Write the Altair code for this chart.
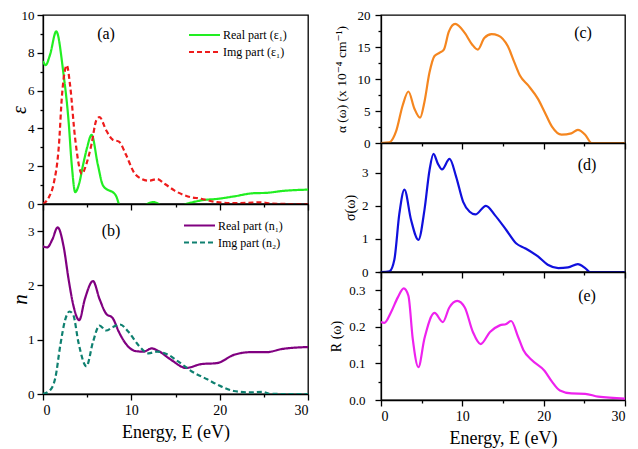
import altair as alt
import pandas as pd

FONT = "Liberation Serif, Times New Roman, DejaVu Serif, serif"

# ---------------- data ----------------
# (a) dielectric function
eps1_E = [0, 0.3, 0.8, 1.5, 2.3, 2.9, 3.25, 3.65, 4.1, 4.55, 5.0, 5.5, 6.2, 6.8, 7.5, 7.9, 8.3, 8.6,
          9.5, 10.5, 11.3, 11.8, 12.5, 13.1, 13.8, 15.0, 16.2, 17.0, 17.9, 19.9, 21.6, 23.8, 25.3, 27.1, 30]
eps1_v = [7.57, 7.35, 7.9, 9.13, 6.96, 4.36, 2.1, 0.63, 1.1, 2.1, 3.0, 3.66, 2.1, 0.97, 0.71, 0.63, 0.4, 0.0,
          -0.6, -0.6, -0.2, 0.0, 0.1, 0.0, -0.3, -0.3, 0.0, 0.1, 0.19, 0.28, 0.4, 0.57, 0.59, 0.69, 0.76]
eps2_E = [0, 0.67, 1.2, 1.8, 2.15, 2.44, 2.7, 3.07, 3.63, 4.4, 4.9, 5.48, 6.04, 6.4, 7.15, 7.9, 8.6, 9.4,
          10.3, 11.2, 12.0, 12.9, 13.8, 14.9, 16.4, 17.9, 19.7, 21.6, 23.0, 24.6, 26.0, 28, 30]
eps2_v = [0, 0.36, 1.06, 3.1, 5.75, 6.96, 7.34, 6.27, 3.5, 1.6, 2.1, 3.14, 4.44, 4.6, 3.9, 3.4, 3.3, 2.6,
          1.67, 1.32, 1.23, 1.32, 1.06, 0.71, 0.4, 0.28, 0.1, 0.05, 0.06, 0.09, 0.02, 0.0, 0.0]

# (b) refractive index
n1_E = [0, 0.48, 1.04, 1.66, 2.33, 2.9, 3.44, 4.1, 4.74, 5.66, 6.4, 7.14, 7.88, 8.6, 9.5, 10.5, 11.4,
        12.3, 13.1, 14.5, 16.2, 17.9, 19.7, 21.6, 23.4, 25.3, 27.1, 30]
n1_v = [2.72, 2.70, 2.84, 3.07, 2.72, 2.11, 1.63, 1.36, 1.75, 2.08, 1.75, 1.48, 1.4, 1.14, 0.9, 0.79, 0.78,
        0.84, 0.79, 0.63, 0.48, 0.55, 0.57, 0.72, 0.77, 0.77, 0.83, 0.865]
n2_E = [0, 0.85, 1.4, 1.96, 2.5, 3.0, 3.44, 4.0, 4.92, 5.66, 6.4, 7.14, 7.88, 8.7, 9.7, 10.8, 11.95,
        12.9, 14.2, 15.3, 16.8, 18.6, 20.1, 21.6, 23.4, 24.9, 25.6, 27, 30]
n2_v = [0, 0.08, 0.3, 0.9, 1.36, 1.52, 1.45, 0.96, 0.51, 0.96, 1.26, 1.17, 1.23, 1.28, 1.14, 0.9, 0.75,
        0.78, 0.72, 0.6, 0.42, 0.27, 0.145, 0.055, 0.03, 0.04, 0.005, 0, 0]

# (c) absorption coefficient
alpha_E = [0, 1.03, 1.85, 2.67, 3.37, 4.1, 4.81, 5.34, 5.96, 6.58, 7.2, 7.73, 8.34, 9.12, 10.3, 11.2, 11.9,
           12.7, 13.6, 14.4, 15.6, 16.4, 17.1, 18.1, 19.3, 20.1, 21.0, 22.2, 23.4, 24.2, 25.1, 25.9, 27, 30]
alpha_v = [0, 0.1, 1.8, 5.9, 8.05, 5.4, 3.95, 6.4, 11.0, 13.6, 14.1, 14.6, 17.4, 18.6, 17.2, 15.4, 14.6,
           16.4, 17.0, 16.8, 15.1, 12.6, 10.5, 9.0, 6.9, 4.9, 2.6, 1.3, 1.5, 2.05, 1.3, 0, 0, 0]

# (d) optical conductivity
sigma_E = [0, 1.03, 1.64, 2.26, 2.88, 3.7, 4.6, 5.34, 5.96, 6.45, 7.0, 7.5, 8.43, 9.25, 10.1, 10.9, 11.6,
           12.9, 14.0, 15.4, 16.6, 17.7, 19.3, 20.5, 21.8, 23.0, 24.2, 25.1, 25.7, 27, 30]
sigma_v = [0, 0.02, 0.37, 1.77, 2.49, 1.57, 0.97, 1.87, 3.07, 3.57, 3.27, 3.1, 3.42, 2.87, 2.12, 1.82, 1.74,
           2.0, 1.72, 1.27, 0.87, 0.72, 0.47, 0.22, 0.12, 0.14, 0.24, 0.12, 0, 0, 0]

# (e) reflectivity
R_E = [0, 0.41, 1.23, 2.05, 2.8, 3.37, 3.9, 4.6, 5.34, 6.58, 7.6, 8.4, 9.37, 10.3, 11.3, 12.25, 13.4,
       14.6, 15.4, 16.0, 16.85, 17.5, 18.5, 20.1, 21.0, 22.0, 23.4, 25.1, 26.7, 30]
R_v = [0.213, 0.211, 0.24, 0.28, 0.305, 0.285, 0.168, 0.09, 0.168, 0.238, 0.213, 0.253, 0.271, 0.253,
       0.186, 0.153, 0.186, 0.204, 0.208, 0.216, 0.173, 0.137, 0.11, 0.08, 0.051, 0.026, 0.018, 0.017,
       0.009, 0.004]

x_ticks = [0, 5, 10, 15, 20, 25, 30]
eps_ticks = [0, 1, 2, 3, 4, 5, 6, 7, 8, 9, 10]
n_ticks = [0, 0.5, 1, 1.5, 2, 2.5, 3, 3.5]
alpha_ticks = [0, 2.5, 5, 7.5, 10, 12.5, 15, 17.5, 20]
sigma_ticks = [0, 0.5, 1, 1.5, 2, 2.5, 3, 3.5]
R_ticks = [0, 0.05, 0.1, 0.15, 0.2, 0.25, 0.3, 0.35]

labels_a = ["Real part (ε₁)", "Img part (ε₁)"]
labels_b = ["Real part (n₁)", "Img part (n₂)"]
colors_a = ["#22ee22", "#ee1c1c"]
colors_b = ["#800080", "#0f8070"]
dashes = [[1, 0], [5, 3]]


def long_df(pairs, names):
    rows = []
    for (E, v), name in zip(pairs, names):
        for e, val in zip(E, v):
            rows.append({"E": e, "v": val, "series": name})
    return pd.DataFrame(rows)


df_a = long_df([(eps1_E, eps1_v), (eps2_E, eps2_v)], labels_a)
df_b = long_df([(n1_E, n1_v), (n2_E, n2_v)], labels_b)
df_c = pd.DataFrame({"E": alpha_E, "v": alpha_v})
df_d = pd.DataFrame({"E": sigma_E, "v": sigma_v})
df_e = pd.DataFrame({"E": R_E, "v": R_v})


def cond_test(step):
    return f"round(datum.value/{step}) % 2 === 0"


def axis_with_minor(values, step, **kw):
    t = cond_test(step)
    return alt.Axis(values=values,
                    labelExpr=f"{t} ? datum.label : ''",
                    tickSize={"condition": {"test": t, "value": 6}, "value": 3},
                    grid=False, **kw)


def x_enc(bottom):
    if bottom:
        ax = axis_with_minor(x_ticks, 5, title="Energy, E (eV)", titleFontSize=18,
                             titleFontWeight="normal", labelFontSize=14, labelPadding=3,
                             titlePadding=6, labelFont=FONT, titleFont=FONT, format="d")
    else:
        ax = axis_with_minor(x_ticks, 5, title=None, labels=False)
    return alt.X("E:Q", scale=alt.Scale(domain=[0, 30], nice=False, zero=False), axis=ax)


def y_enc(domain, values, step, title, tsize, tstyle, tpad, lpad, fmt="d"):
    kw = dict(title=title, titleFontSize=tsize, titleFontStyle=tstyle, titleFontWeight="normal",
              titlePadding=tpad, labelFontSize=13, labelPadding=lpad, labelFont=FONT, titleFont=FONT,
              format=fmt)
    return alt.Y("v:Q", scale=alt.Scale(domain=domain, nice=False, zero=False),
                 axis=axis_with_minor(values, step, **kw))


def tag(text, x, y):
    return alt.Chart(pd.DataFrame({"t": [text]})).mark_text(
        font=FONT, fontSize=16, color="black", align="center", baseline="middle"
    ).encode(text="t:N", x=alt.value(x), y=alt.value(y))


def legend_rows(names, colors, x0, y0, dy):
    layers = []
    for i, (name, col, dash) in enumerate(zip(names, colors, dashes)):
        y = y0 + i * dy
        src = alt.Chart(pd.DataFrame({"t": [name]}))
        layers.append(src.mark_rule(color=col, strokeWidth=2.2, strokeDash=dash).encode(
            x=alt.value(x0), x2=alt.value(x0 + 31), y=alt.value(y)))
        layers.append(src.mark_text(font=FONT, fontSize=12, color="black", align="left",
                                    baseline="middle").encode(
            text="t:N", x=alt.value(x0 + 34), y=alt.value(y)))
    return layers


def line_layer(df, colors, names, x_bottom, yenc):
    return alt.Chart(df).mark_line(interpolate="monotone", strokeWidth=2.2, clip=True).encode(
        x=x_enc(x_bottom),
        y=yenc,
        color=alt.Color("series:N", scale=alt.Scale(domain=names, range=colors), legend=None),
        strokeDash=alt.StrokeDash("series:N", scale=alt.Scale(domain=names, range=dashes), legend=None),
    )


W_L, W_R = 265, 244

# panel (a)
line_a = line_layer(df_a, colors_a, labels_a, False,
                    y_enc([0, 10], eps_ticks, 1, "ε", 20, "italic", -8, 3))
panel_a = alt.layer(line_a, tag("(a)", 63, 19), *legend_rows(labels_a, colors_a, 146, 20, 17)
                    ).properties(width=W_L, height=189)

# panel (b)
line_b = line_layer(df_b, colors_b, labels_b, True,
                    y_enc([0, 3.5], n_ticks, 0.5, "n", 21, "italic", -3, 3))
panel_b = alt.layer(line_b, tag("(b)", 68, 27), *legend_rows(labels_b, colors_b, 141, 21.5, 17)
                    ).properties(width=W_L, height=190)

# panel (c)
line_c = alt.Chart(df_c).mark_line(interpolate="monotone", strokeWidth=2.2, clip=True,
                                   color="#f5861f").encode(
    x=x_enc(False),
    y=y_enc([0, 20], alpha_ticks, 2.5, "α (ω) (x 10⁻⁴ cm⁻¹)", 13.5, "normal", 9, 5),
)
panel_c = alt.layer(line_c, tag("(c)", 202, 18)).properties(width=W_R, height=128)

# panel (d)
line_d = alt.Chart(df_d).mark_line(interpolate="monotone", strokeWidth=2.2, clip=True,
                                   color="#1010dd").encode(
    x=x_enc(False),
    y=y_enc([0, 3.9], sigma_ticks, 0.5, "σ(ω)", 14, "normal", 4, 7),
)
panel_d = alt.layer(line_d, tag("(d)", 206, 22)).properties(width=W_R, height=129)

# panel (e)
line_e = alt.Chart(df_e).mark_line(interpolate="monotone", strokeWidth=2.2, clip=True,
                                   color="#ee22ee").encode(
    x=x_enc(True),
    y=y_enc([0, 0.35], R_ticks, 0.05, "R (ω)", 14, "normal", 5, 10, fmt=".1f"),
)
panel_e = alt.layer(line_e, tag("(e)", 206, 24)).properties(width=W_R, height=128)

res = dict(x="independent", y="independent", color="independent", strokeDash="independent")

left = alt.vconcat(panel_a, panel_b, spacing=0, bounds="flush").resolve_scale(**res)
right = alt.vconcat(panel_c, panel_d, panel_e, spacing=0, bounds="flush").resolve_scale(**res)

chart = alt.hconcat(left, right, spacing=19).resolve_scale(**res).properties(
    padding={"left": 0, "top": 0, "right": 2, "bottom": 0}
).configure(
    font=FONT
).configure_view(
    stroke="black", strokeWidth=1.3
).configure_axis(
    domainColor="black", domainWidth=1.3, tickColor="black", tickWidth=1.3,
    labelColor="black", titleColor="black", labelFont=FONT, titleFont=FONT
)

chart.save("out.html", embed_options={"renderer": "svg", "actions": False})
